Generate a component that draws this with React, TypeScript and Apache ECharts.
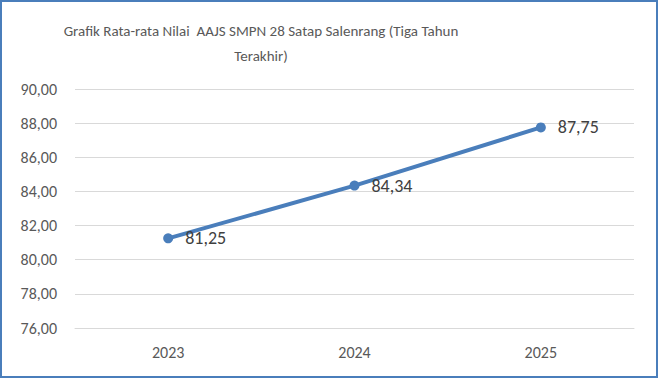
import React, { useEffect, useRef } from "react";
import * as echarts from "echarts";

const years = ["2023", "2024", "2025"];
const averages = [81.25, 84.34, 87.75];
const titleLines = ["Grafik Rata-rata Nilai  AAJS SMPN 28 Satap Salenrang (Tiga Tahun", "Terakhir)"];

const FONT = "Carlito, 'Liberation Sans Narrow', Lato, 'Open Sans', sans-serif";
const fmt = (v: number) => v.toFixed(2).replace(".", ",");

export default function App() {
  const ref = useRef<HTMLDivElement>(null);
  useEffect(() => {
    if (!ref.current) return;
    const chart = echarts.init(ref.current, null, { renderer: "svg" });
    chart.setOption({
      animation: false,
      backgroundColor: "#ffffff",
      grid: { left: 75, right: 24, top: 89, bottom: 50 },
      xAxis: {
        type: "category",
        data: years,
        boundaryGap: true,
        axisLine: { show: true, lineStyle: { color: "#d9d9d9", width: 1 } },
        axisTick: { show: false },
        axisLabel: { fontFamily: FONT, fontSize: 16, color: "#595959", margin: 16 },
      },
      yAxis: {
        type: "value",
        min: 76,
        max: 90,
        interval: 2,
        axisLine: { show: false },
        axisTick: { show: false },
        splitLine: { lineStyle: { color: "#d9d9d9", width: 1 } },
        axisLabel: { fontFamily: FONT, fontSize: 16, color: "#595959", margin: 18, formatter: (v: number) => fmt(v) },
      },
      series: [
        {
          type: "line",
          data: averages,
          lineStyle: { color: "#4a7ebb", width: 4 },
          itemStyle: { color: "#4a7ebb" },
          symbol: "circle",
          symbolSize: 10,
          label: {
            show: true,
            position: "right",
            distance: 12,
            fontFamily: FONT,
            fontSize: 18,
            color: "#404040",
            formatter: (p: any) => fmt(p.value),
          },
        },
      ],
      graphic: [
        {
          type: "text",
          x: 261,
          y: 18,
          style: {
            text: titleLines.join("\n"),
            textAlign: "center",
            textVerticalAlign: "top",
            fontFamily: FONT,
            fontSize: 15,
            fill: "#595959",
            lineHeight: 25,
          },
        },
        {
          type: "rect",
          shape: { x: 1, y: 1, width: 656, height: 376 },
          style: { fill: "none", stroke: "#4a7ebb", lineWidth: 2 },
          z: 100,
        },
      ],
    });
    return () => chart.dispose();
  }, []);
  return <div ref={ref} style={{ position: "fixed", left: 0, top: 0, width: 658, height: 378 }} />;
}
